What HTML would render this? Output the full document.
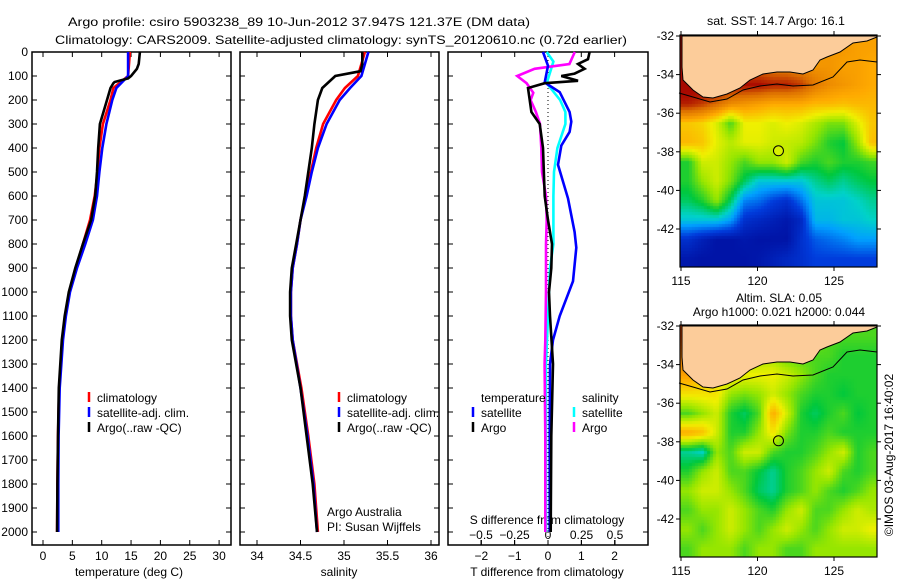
<!DOCTYPE html>
<html><head><meta charset="utf-8"><style>
body{margin:0;background:#fff;}
svg text{font-family:"Liberation Sans",sans-serif;font-size:12px;fill:#000;}
#wrap{position:relative;width:900px;height:580px;}
canvas{position:absolute;}
</style></head><body>
<div id="wrap">
<canvas id="m1" width="197" height="232" style="left:680px;top:35px"></canvas>
<canvas id="m2" width="197" height="232" style="left:680px;top:325px"></canvas>
<svg id="s" width="900" height="580" style="position:absolute;left:0;top:0" xmlns="http://www.w3.org/2000/svg">
<text x="68" y="26" font-size="15" textLength="462" lengthAdjust="spacingAndGlyphs">Argo profile: csiro 5903238_89 10-Jun-2012 37.947S 121.37E (DM data)</text>
<text x="55" y="44" font-size="15" textLength="572" lengthAdjust="spacingAndGlyphs">Climatology: CARS2009. Satellite-adjusted climatology: synTS_20120610.nc (0.72d earlier)</text>
<text x="707" y="25" textLength="138" lengthAdjust="spacingAndGlyphs">sat. SST: 14.7 Argo: 16.1</text>
<text x="779" y="302" text-anchor="middle">Altim. SLA: 0.05</text>
<text x="779" y="316" text-anchor="middle">Argo h1000: 0.021 h2000: 0.044</text>
<text transform="translate(893,455) rotate(-90)" text-anchor="middle">©IMOS 03-Aug-2017 16:40:02</text>
</svg></div>
<script>
// ---- data ----
const depthTicks=[0,100,200,300,400,500,600,700,800,900,1000,1100,1200,1300,1400,1500,1600,1700,1800,1900,2000];
const tempTicks=[0,5,10,15,20,25,30];
const salTicks=[34,34.5,35,35.5,36];
const tdiffTicks=[-2,-1,0,1,2];
const sdiffTicks=[-0.5,-0.25,0,0.25,0.5];
const argoT_depth=[0,50,70,100,110,125,130,150,200,300,400,500,600,700,800,900,1000,1100,1200,1400,1600,1800,2000];
const argoT=[16.5,16.3,16,15,14.5,12.2,12,11.5,10.9,9.7,9.4,9.2,8.9,8.2,6.8,5.5,4.4,3.7,3.2,2.7,2.55,2.45,2.4];
const climT_depth=[0,100,150,200,300,400,500,600,700,800,900,1000,1100,1200,1400,1600,1800,2000];
const climT=[14.8,14.5,12,11.5,10.2,9.6,9.3,8.8,8,6.8,5.6,4.5,3.8,3.3,2.75,2.55,2.45,2.4];
const satT=[14.5,14.5,12.5,11.8,10.8,10.1,9.6,9.2,8.5,7.2,5.8,4.6,3.9,3.4,2.85,2.65,2.6,2.6];
const argoS_depth=[0,50,80,100,150,200,300,400,500,600,700,800,900,1000,1100,1200,1400,1600,1800,2000];
const argoS=[35.21,35.21,35.19,34.9,34.75,34.7,34.66,34.63,34.59,34.55,34.5,34.45,34.4,34.38,34.38,34.4,34.5,34.57,34.64,34.69];
const climS_depth=[0,100,150,200,300,400,500,600,700,800,900,1000,1100,1200,1400,1600,1800,2000];
const climS=[35.24,35.16,35.01,34.91,34.76,34.68,34.62,34.56,34.5,34.46,34.41,34.39,34.39,34.41,34.51,34.59,34.66,34.7];
const satS=[35.28,35.2,35.07,34.95,34.8,34.7,34.63,34.57,34.5,34.46,34.41,34.39,34.39,34.41,34.5,34.58,34.65,34.69];
const satTd_depth=[0,57,127,167,250,290,333,390,470,610,750,815,955,1100,1200,1300,1600,2000];
const satTdiff=[-0.15,0,-0.1,0.35,0.65,0.7,0.65,0.4,0.3,0.6,0.8,0.85,0.75,0.35,0.15,0.06,0.05,0.05];
const argoTd_depth=[0,30,50,70,90,100,120,130,150,200,250,300,400,600,700,800,900,1000,1100,1300,1600,2000];
const argoTdiff=[1.25,1.2,0.9,1.1,0.8,0.4,0.9,-0.1,-0.6,-0.55,-0.5,-0.25,-0.15,-0.1,0,0.12,0.1,0.03,0.06,0.15,0.1,0.08];
const satSd_depth=[0,40,130,200,250,300,400,500,600,700,800,900,1100,1300,1600,2000];
const satSdiff=[-0.01,0.04,-0.01,0.09,0.13,0.13,0.07,0.045,0.04,0.04,0.04,0.015,0.0,-0.015,-0.015,-0.015];
const argoSd_depth=[0,50,70,100,130,170,200,250,300,400,500,600,700,800,1000,1200,1300,1600,2000];
const argoSdiff=[0.2,0.16,-0.1,-0.23,-0.16,-0.11,-0.13,-0.09,-0.06,-0.05,-0.045,-0.015,-0.01,-0.015,-0.015,-0.02,-0.025,-0.02,-0.02];
const lonTicks=[115,120,125];
const latTicks=[32,34,36,38,40,42];
const sstGrid=[
[.92,.92,.9,.8,.78,.76,.75,.75,.74,.72,.72,.72,.7,.7],
[.92,.9,.88,.82,.8,.78,.76,.75,.74,.72,.72,.7,.7,.68],
[.92,.92,.92,.9,.9,.9,.88,.88,.85,.78,.74,.72,.7,.68],
[.88,.85,.8,.74,.72,.7,.68,.68,.68,.66,.66,.65,.66,.66],
[.64,.62,.56,.45,.58,.58,.56,.58,.56,.52,.48,.48,.56,.64],
[.66,.64,.57,.53,.57,.57,.55,.54,.53,.48,.42,.4,.5,.65],
[.42,.55,.55,.5,.45,.5,.5,.55,.45,.42,.45,.42,.42,.44],
[.42,.5,.55,.48,.38,.3,.3,.3,.3,.35,.38,.35,.38,.4],
[.38,.42,.5,.38,.22,.2,.15,.12,.2,.3,.3,.3,.32,.35],
[.3,.3,.3,.25,.12,.1,.08,.06,.1,.28,.28,.3,.3,.32],
[.12,.08,.05,.05,.06,.05,.05,.05,.12,.18,.2,.22,.25,.25],
[.06,.05,.05,.05,.05,.06,.08,.1,.12,.15,.15,.15,.15,.15]];
const slaGrid=[
[.85,.75,.55,.5,.5,.5,.5,.5,.5,.5,.45,.45,.45,.45],
[.8,.6,.5,.5,.5,.5,.5,.45,.45,.45,.45,.42,.42,.42],
[.7,.65,.6,.6,.58,.58,.58,.55,.5,.45,.42,.42,.42,.42],
[.6,.6,.6,.5,.48,.5,.55,.5,.45,.42,.42,.4,.42,.42],
[.45,.5,.55,.42,.38,.45,.68,.55,.42,.38,.42,.45,.4,.42],
[.68,.65,.55,.42,.42,.5,.6,.48,.42,.42,.45,.42,.42,.42],
[.35,.32,.5,.45,.55,.55,.45,.42,.42,.45,.5,.55,.42,.45],
[.42,.5,.55,.45,.45,.4,.35,.42,.45,.5,.55,.45,.42,.45],
[.5,.55,.55,.5,.45,.38,.35,.42,.45,.5,.45,.42,.45,.5],
[.45,.5,.5,.55,.5,.45,.42,.5,.55,.45,.45,.5,.55,.52],
[.5,.45,.5,.55,.5,.45,.5,.55,.5,.45,.5,.55,.55,.58],
[.45,.5,.5,.5,.45,.5,.5,.45,.45,.5,.5,.5,.5,.5]];
const argoLon=121.37, argoLat=37.947;

const NS="http://www.w3.org/2000/svg";
const svg=document.getElementById('s');
function el(t,a,p){const e=document.createElementNS(NS,t);for(const k in a)e.setAttribute(k,a[k]);(p||svg).appendChild(e);return e;}
const yD=d=>52+d*0.24;
const xT=t=>43+t*5.87;
const xS=s=>257+(s-34)*87;
const xTd=t=>548+t*33.3;
const xSd=s=>548+s*134;

function frame(x0,x1,name){
  const r=el('rect',{x:x0,y:52,width:x1-x0,height:493,fill:'none',stroke:'#000','stroke-width':1.5});
  
  
  depthTicks.forEach(d=>{el('line',{x1:x0,x2:x0+5,y1:yD(d),y2:yD(d),stroke:'#000'});el('line',{x1:x1,x2:x1-5,y1:yD(d),y2:yD(d),stroke:'#000'});});
}
frame(32,231,'temperature-panel');frame(240,439,'salinity-panel');frame(448,648,'difference-panel');
depthTicks.forEach(d=>{const t=el('text',{x:28,y:yD(d)+4,'text-anchor':'end'});t.textContent=d;
  
  });
function xaxis(ticks,fx,x0,x1,label,lx,name){
  ticks.forEach(v=>{el('line',{x1:fx(v),x2:fx(v),y1:545,y2:540,stroke:'#000'});el('line',{x1:fx(v),x2:fx(v),y1:52,y2:57,stroke:'#000'});
   const t=el('text',{x:fx(v),y:560,'text-anchor':'middle'});t.textContent=String(v).replace('-','−');
   
   });
  const t=el('text',{x:lx,y:576,'text-anchor':'middle'});t.textContent=label;
  
  
}
xaxis(tempTicks,xT,32,231,'temperature (deg C)',129,'temperature');
xaxis(salTicks,xS,240,439,'salinity',339,'salinity');
xaxis(tdiffTicks,xTd,448,648,'T difference from climatology',547,'t-difference');
sdiffTicks.forEach(v=>{el('line',{x1:xSd(v),x2:xSd(v),y1:545,y2:540,stroke:'#000'});
  const t=el('text',{x:xSd(v),y:539,'text-anchor':'middle'});t.textContent=String(v).replace('-','−');
  
  });
{const t=el('text',{x:547,y:524,'text-anchor':'middle'});t.textContent='S difference from climatology';
 
 }
el('line',{x1:548,x2:548,y1:52,y2:545,stroke:'#000','stroke-dasharray':'1,3'});

function line(ds,vs,fx,col,name){
  const p=el('polyline',{points:ds.map((d,i)=>fx(vs[i]).toFixed(1)+','+yD(d).toFixed(1)).join(' '),fill:'none',stroke:col,'stroke-width':2.6});
  
  
}
line(climT_depth,climT,xT,'#f00','climatology-temperature-line');
line(climT_depth,satT,xT,'#00f','satellite-temperature-line');
line(argoT_depth,argoT,xT,'#000','argo-temperature-line');
line(climS_depth,climS,xS,'#f00','climatology-salinity-line');
line(climS_depth,satS,xS,'#00f','satellite-salinity-line');
line(argoS_depth,argoS,xS,'#000','argo-salinity-line');
line(satSd_depth,satSdiff,xSd,'#0ff','satellite-salinity-diff-line');
line(argoSd_depth,argoSdiff,xSd,'#f0f','argo-salinity-diff-line');
line(satTd_depth,satTdiff,xTd,'#00f','satellite-temperature-diff-line');
line(argoTd_depth,argoTdiff,xTd,'#000','argo-temperature-diff-line');

function legend(x,y,items,name){
  items.forEach((it,i)=>{
    if(it[0])el('line',{x1:x,x2:x,y1:y+i*15-10,y2:y+i*15,stroke:it[0],'stroke-width':2.5});
    const t=el('text',{x:x+8,y:y+i*15});t.textContent=it[1];
    
    
  });
}
const L1=[['#f00','climatology'],['#00f','satellite-adj. clim.'],['#000','Argo(..raw -QC)']];
legend(89,402,L1,'temperature-legend');legend(339,402,L1,'salinity-legend');
legend(473,402,[[null,'temperature'],['#00f','satellite'],['#000','Argo']],'t-diff-legend');
legend(574,402,[[null,'salinity'],['#0ff','satellite'],['#f0f','Argo']],'s-diff-legend');
{const t=el('text',{x:327,y:516});t.textContent='Argo Australia';
 const u=el('text',{x:327,y:531});u.textContent='PI: Susan Wijffels';}

// ---- maps ----
const mx=lon=>681+(lon-115)*15.3;
const my=(lat,oy)=>oy+1+(lat-32)*19.3;
const stops=[[0,[0,0,140]],[.15,[0,60,220]],[.25,[0,160,255]],[.32,[0,210,200]],[.4,[0,200,60]],[.5,[150,230,0]],[.58,[240,240,0]],[.68,[255,170,0]],[.8,[220,110,0]],[.9,[170,10,0]],[1,[150,0,0]]];
function cmap(v){for(let i=1;i<stops.length;i++){if(v<=stops[i][0]){const a=stops[i-1],b=stops[i],f=(v-a[0])/(b[0]-a[0]);return 'rgb('+a[1].map((c,k)=>Math.round(c+(b[1][k]-c)*f)).join(',')+')';}}return 'rgb(150,0,0)';}
function drawMap(id,grid){
  const c=document.getElementById(id).getContext('2d');const R=grid.length,C=grid[0].length;
  for(let py=0;py<232;py+=3)for(let px=0;px<197;px+=3){
    let gx=px/197*C-0.5,gy=py/232*R-0.5;gx=Math.max(0,Math.min(C-1.001,gx));gy=Math.max(0,Math.min(R-1.001,gy));
    const i=Math.floor(gx),j=Math.floor(gy),fx=gx-i,fy=gy-j;
    const v=grid[j][i]*(1-fx)*(1-fy)+grid[j][i+1]*fx*(1-fy)+grid[j+1][i]*(1-fx)*fy+grid[j+1][i+1]*fx*fy;
    c.fillStyle=cmap(v);c.fillRect(px,py,3,3);}
}
drawMap('m1',sstGrid);drawMap('m2',slaGrid);
const land=[[682,36],[682,67],[683,80],[693,90],[703,97],[713,98],[727,94],[740,88],[750,80],[763,74],[777,72],[790,72],[803,74],[813,70],[820,60],[827,57],[840,52],[853,43],[867,41],[877,37],[877,36]];
const contour=[[679,93],[693,97],[710,102],[727,99],[743,90],[760,86],[777,84],[793,86],[813,85],[833,77],[847,62],[860,60],[877,62]];
[[0,'sst'],[290,'sla']].forEach(([off,nm])=>{
  const oy=35+off;
  const lp=el('polygon',{points:land.map(p=>p[0]+','+(p[1]+off)).join(' '),fill:'#fccc9a',stroke:'#000','stroke-width':1});
  
  
  el('polyline',{points:contour.map(p=>p[0]+','+(p[1]+off)).join(' '),fill:'none',stroke:'#000','stroke-width':1});
  const fr=el('rect',{x:680,y:oy,width:197,height:232,fill:'none',stroke:'#000','stroke-width':1.2});
  
  
  lonTicks.forEach(v=>{el('line',{x1:mx(v),x2:mx(v),y1:oy,y2:oy-4,stroke:'#000'});el('line',{x1:mx(v),x2:mx(v),y1:oy+232,y2:oy+236,stroke:'#000'});
    const t=el('text',{x:mx(v),y:oy+250,'text-anchor':'middle'});t.textContent=v;
    
    });
  latTicks.forEach(v=>{el('line',{x1:680,x2:676,y1:my(v,oy),y2:my(v,oy),stroke:'#000'});el('line',{x1:877,x2:881,y1:my(v,oy),y2:my(v,oy),stroke:'#000'});
    const t=el('text',{x:674,y:my(v,oy)+4,'text-anchor':'end'});t.textContent='-'+v;
    
    });
  const pt=el('circle',{cx:mx(argoLon),cy:my(argoLat,oy),r:5,fill:off?'none':'#d8f000',stroke:'#000','stroke-width':1});
  
  
});
</script>
</body></html>
